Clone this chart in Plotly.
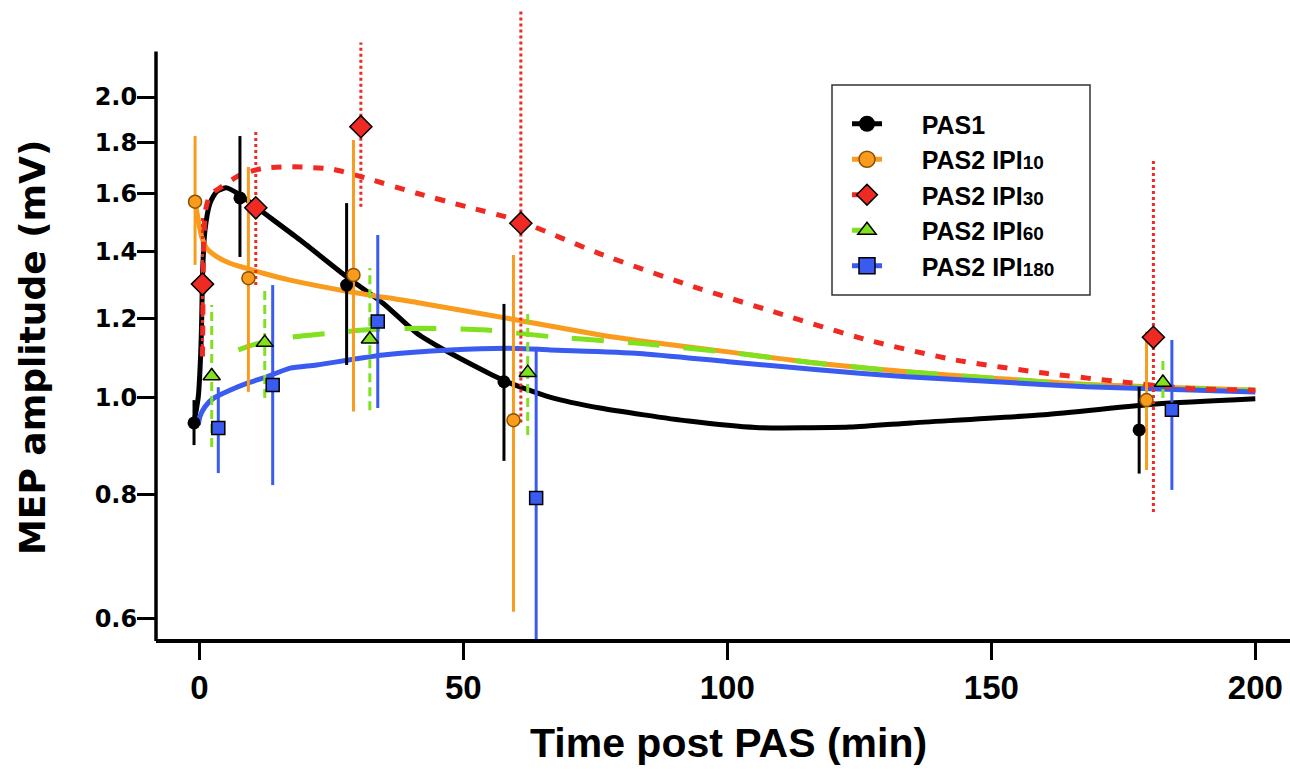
import plotly.graph_objects as go

# ---------------- data ----------------
# measured points: time (min), MEP amplitude (mV), upper / lower error limits
t_pas1 = [-1.0, 7.7, 27.9, 57.7, 178.0]
mep_pas1 = [0.943, 1.585, 1.296, 1.037, 0.928]
hi_pas1 = [0.994, 1.828, 1.566, 1.241, 1.025]
lo_pas1 = [0.896, 1.383, 1.078, 0.864, 0.839]

t_ipi10 = [-0.8, 9.3, 29.2, 59.5, 179.4]
mep_ipi10 = [1.571, 1.317, 1.327, 0.949, 0.994]
hi_ipi10 = [1.828, 1.702, 1.811, 1.389, 1.164]
lo_ipi10 = [1.358, 1.013, 0.968, 0.610, 0.846]

t_ipi30 = [0.6, 10.7, 30.6, 60.9, 180.7]
mep_ipi30 = [1.299, 1.549, 1.868, 1.495, 1.149]
hi_ipi30 = [1.523, 1.854, 2.268, 2.451, 1.738]
lo_ipi30 = [1.108, 1.296, 1.553, 0.944, 0.768]

t_ipi60 = [2.35, 12.4, 32.3, 62.2, 182.5]
mep_ipi60 = [1.051, 1.135, 1.144, 1.059, 1.035]
hi_ipi60 = [1.238, 1.290, 1.348, 1.224, 1.090]
lo_ipi60 = [0.892, 0.999, 0.971, 0.917, 0.999]

t_ipi180 = [3.6, 13.9, 33.8, 63.8, 184.2]
mep_ipi180 = [0.932, 1.029, 1.192, 0.793, 0.972]
hi_ipi180 = [1.024, 1.296, 1.455, 1.121, 1.142]
lo_ipi180 = [0.840, 0.817, 0.976, 0.561, 0.808]

# fitted curves
fit_t_pas1 = [-1.0, -0.19, 0.27, 0.45, 0.64, 1.08, 2.03, 3.3, 5.2, 7.7, 11.5, 19.1, 28.0, 34.8,
              41.2, 47.5, 57.5, 66.4, 75.9, 92.7, 105.4, 123.2, 134.8, 160.0, 181.2, 200.0]
fit_y_pas1 = [0.943, 1.002, 1.108, 1.196, 1.342, 1.472, 1.566, 1.608, 1.622, 1.596, 1.541, 1.438,
              1.320, 1.243, 1.160, 1.108, 1.041, 1.001, 0.976, 0.947, 0.933, 0.934, 0.943, 0.961,
              0.985, 0.997]

fit_t_ipi10 = [-0.8, -0.19, 0.45, 1.4, 3.3, 5.8, 9.0, 12.1, 17.2, 27.9, 41.2, 60.1, 75.9,
               83.3, 100.2, 117.2, 134.0, 151.0, 167.9, 200.0]
fit_y_ipi10 = [1.571, 1.506, 1.449, 1.411, 1.384, 1.363, 1.347, 1.332, 1.311, 1.278, 1.245,
               1.196, 1.155, 1.140, 1.111, 1.082, 1.061, 1.045, 1.031, 1.017]

fit_t_ipi30 = [0.6, 0.7, 0.8, 0.95, 1.08, 2.03, 4.2, 7.7, 12.1, 16.6, 20.3, 25.3, 31.7, 41.2, 50.6,
               60.1, 75.9, 92.7, 109.6, 126.5, 143.3, 160.0, 176.8, 187.3, 200.0]
fit_y_ipi30 = [1.099, 1.25, 1.40, 1.47, 1.531, 1.596, 1.626, 1.671, 1.697, 1.703, 1.701, 1.693,
               1.658, 1.602, 1.553, 1.506, 1.393, 1.296, 1.215, 1.142, 1.090, 1.058, 1.034, 1.021,
               1.017]

fit_t_ipi60 = [7.4, 12.1, 18.4, 24.8, 31.7, 42.4, 53.7, 66.4, 83.3, 100.2, 117.2, 134.0, 150.9,
               167.9, 200.0]
fit_y_ipi60 = [1.116, 1.137, 1.151, 1.160, 1.169, 1.173, 1.169, 1.151, 1.133, 1.110, 1.082, 1.061,
               1.045, 1.029, 1.017]

fit_t_ipi180 = [-0.19, 0.13, 1.08, 2.65, 5.8, 9.0, 12.8, 17.2, 22.2, 34.8, 47.5, 60.1, 66.4, 83.3,
                100.2, 117.2, 134.0, 150.9, 167.9, 200.0]
fit_y_ipi180 = [0.939, 0.957, 0.979, 0.998, 1.017, 1.033, 1.049, 1.070, 1.078, 1.103, 1.116, 1.120,
                1.116, 1.107, 1.086, 1.066, 1.049, 1.037, 1.025, 1.013]

series_names = ["PAS1", "PAS2 IPI", "PAS2 IPI", "PAS2 IPI", "PAS2 IPI"]
series_subs = ["", "10", "30", "60", "180"]

x_ticks = [0, 50, 100, 150, 200]
y_ticks = [0.6, 0.8, 1.0, 1.2, 1.4, 1.6, 1.8, 2.0]
y_ticktext = ["0.6", "0.8", "1.0", "1.2", "1.4", "1.6", "1.8", "2.0"]

# ---------------- styles ----------------
BLACK = "#000000"
ORANGE = "#F99B1C"
RED = "#EE2A22"
GREEN = "#80E21E"
BLUE = "#3A5BEF"

series = [
    dict(t=t_pas1, y=mep_pas1, hi=hi_pas1, lo=lo_pas1, ft=fit_t_pas1, fy=fit_y_pas1,
         color=BLACK, dash="solid", edash="solid", sym="circle", size=13, mline=0, mlc=BLACK),
    dict(t=t_ipi10, y=mep_ipi10, hi=hi_ipi10, lo=lo_ipi10, ft=fit_t_ipi10, fy=fit_y_ipi10,
         color=ORANGE, dash="solid", edash="solid", sym="circle", size=13, mline=1.5, mlc="#8a5200"),
    dict(t=t_ipi30, y=mep_ipi30, hi=hi_ipi30, lo=lo_ipi30, ft=fit_t_ipi30, fy=fit_y_ipi30,
         color=RED, dash="10px,11px", edash="3px,3px", sym="diamond", size=17, mline=1.5, mlc=BLACK),
    dict(t=t_ipi60, y=mep_ipi60, hi=hi_ipi60, lo=lo_ipi60, ft=fit_t_ipi60, fy=fit_y_ipi60,
         color=GREEN, dash="32px,24px", edash="9px,5px", sym="triangle-up", size=15, mline=1.5, mlc=BLACK),
    dict(t=t_ipi180, y=mep_ipi180, hi=hi_ipi180, lo=lo_ipi180, ft=fit_t_ipi180, fy=fit_y_ipi180,
         color=BLUE, dash="solid", edash="solid", sym="square", size=13, mline=1.5, mlc=BLACK),
]

fig = go.Figure()

# fitted curves (draw order: black, orange, green, blue, red)
for idx in [0, 1, 3, 4, 2]:
    s = series[idx]
    fig.add_trace(go.Scatter(x=s["ft"], y=s["fy"], mode="lines", showlegend=False, hoverinfo="skip",
                             line=dict(color=s["color"], width=5, dash=s["dash"], shape="spline",
                                       smoothing=0.6)))

# error bars (vertical segments built from the data arrays)
for s in series:
    ex, ey = [], []
    for t, lo, hi in zip(s["t"], s["lo"], s["hi"]):
        ex += [t, t, None]
        ey += [lo, hi, None]
    fig.add_trace(go.Scatter(x=ex, y=ey, mode="lines", showlegend=False, hoverinfo="skip",
                             line=dict(color=s["color"], width=3, dash=s["edash"])))

# markers
for s in series:
    fig.add_trace(go.Scatter(x=s["t"], y=s["y"], mode="markers", showlegend=False, cliponaxis=False,
                             marker=dict(symbol=s["sym"], size=s["size"], color=s["color"],
                                         line=dict(color=s["mlc"], width=s["mline"]))))

# legend entries
pad = "\u00a0" * 5
for s, nm, sub in zip(series, series_names, series_subs):
    label = pad + nm + (f"<span style='font-size:19px'>{sub}</span>" if sub else "")
    fig.add_trace(go.Scatter(x=[None], y=[None], mode="lines+markers", name=label,
                             line=dict(color=s["color"], width=5,
                                       dash="solid" if s["dash"] == "solid" else "dash"),
                             marker=dict(symbol=s["sym"], size=16, color=s["color"],
                                         line=dict(color=s["mlc"], width=s["mline"]))))

PLOT_L, PLOT_R, PLOT_T, PLOT_B = 156, 1290, 5, 639
W, H = 1290, 769
pw, ph = PLOT_R - PLOT_L, PLOT_B - PLOT_T


def px_x(p):
    return (p - PLOT_L) / pw


def px_y(p):
    return (PLOT_B - p) / ph


fig.update_layout(
    width=W, height=H,
    margin=dict(l=PLOT_L, r=W - PLOT_R, t=PLOT_T, b=H - PLOT_B, pad=0),
    paper_bgcolor="white", plot_bgcolor="white",
    showlegend=True,
    legend=dict(x=px_x(847), y=px_y(101), xanchor="left", yanchor="top",
                bgcolor="rgba(0,0,0,0)", borderwidth=0, tracegroupgap=3,
                font=dict(family="Liberation Sans, Arial", size=25, color="black", weight="bold")),
    xaxis=dict(range=[-8.2, 206.57], tickvals=x_ticks, ticks="outside", ticklen=17, tickwidth=3,
               tickcolor="black", showline=True, linewidth=3.5, linecolor="black",
               showgrid=False, zeroline=False, ticklabelstandoff=0,
               tickfont=dict(family="Liberation Sans, Arial", size=33, color="black", weight="bold")),
    yaxis=dict(type="log", range=[-0.2420, 0.3933], tickvals=y_ticks, ticktext=y_ticktext,
               ticks="outside", ticklen=18, tickwidth=3, tickcolor="black",
               showline=False, showgrid=False, zeroline=False, ticklabelstandoff=-5,
               tickfont=dict(family="DejaVu Sans", size=24, color="black", weight="bold")),
    shapes=[
        dict(type="line", xref="paper", yref="paper", x0=0, x1=0, y0=-0.003, y1=px_y(51.5),
             line=dict(color="black", width=3.5)),
        dict(type="rect", xref="paper", yref="paper", x0=px_x(832), x1=px_x(1090),
             y0=px_y(295), y1=px_y(85), line=dict(color="#333333", width=1.5)),
    ],
    annotations=[
        dict(text="MEP amplitude (mV)", xref="paper", yref="paper", x=px_x(32), y=px_y(348),
             xanchor="center", yanchor="middle", textangle=-90, showarrow=False,
             font=dict(family="DejaVu Sans", size=36, color="black", weight="bold")),
        dict(text="Time post PAS (min)", xref="paper", yref="paper", x=px_x(728), y=px_y(743),
             xanchor="center", yanchor="middle", showarrow=False,
             font=dict(family="Liberation Sans, Arial", size=41, color="black", weight="bold")),
    ],
)

fig.write_html("out.html",
               config={"displayModeBar": False},
               post_script="document.body.style.margin='0px';document.body.style.padding='0px';")
